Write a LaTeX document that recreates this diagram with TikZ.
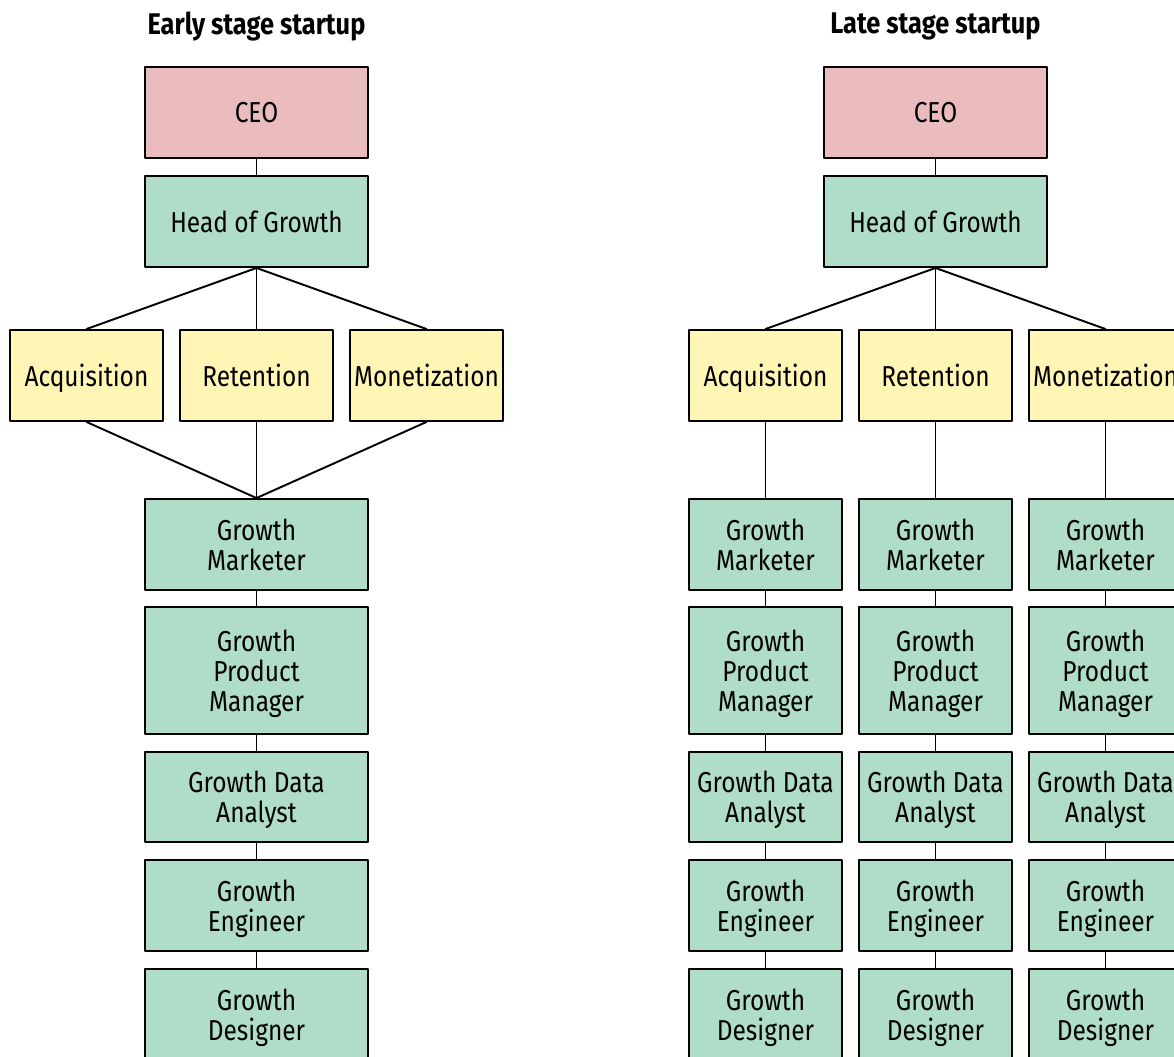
\documentclass[tikz,border=0pt]{standalone}
\usepackage{fontspec}
\setmainfont[FakeStretch=0.85]{Fira Sans}
\definecolor{ceopink}{RGB}{234,188,190}
\definecolor{growgreen}{RGB}{176,221,200}
\definecolor{teamyellow}{RGB}{255,245,180}
\tikzset{
  box/.style={draw, line width=1.1pt, inner sep=0pt, align=center,
    text depth=0pt, font=\fontsize{16.4}{17}\selectfont},
  wide/.style={box, minimum width=4.46cm, minimum height=1.82cm},
  narrow/.style={box, minimum width=3.06cm, minimum height=1.82cm},
  ceobox/.style={fill=ceopink},
  grbox/.style={fill=growgreen},
  teambox/.style={fill=teamyellow},
  link/.style={line width=1.1pt},
  heading/.style={font=\fontsize{17}{18}\selectfont\bfseries}
}
\begin{document}
\begin{tikzpicture}[x=0.02cm, y=-0.02cm, line cap=round, line join=round]

  % Khung hình
  \useasboundingbox (0,0) rectangle (1174,1057);
  \clip (0,0) rectangle (1174,1057);

  % Tiêu đề
  \node[heading] (titleL) at (256.5,26) {Early stage startup};
  \node[heading] (titleR) at (935.5,26) {Late stage startup};

  % Giai đoạn đầu
  \node[wide, ceobox] (ceoL) at (256.5,112.5) {CEO};
  \node[wide, grbox] (hogL) at (256.5,221.5) {Head of Growth};
  \node[narrow, teambox] (acqL) at (86.5,375.5) {Acquisition};
  \node[narrow, teambox] (retL) at (256.5,375.5) {Retention};
  \node[narrow, teambox] (monL) at (426.5,375.5) {Monetization};
  \node[wide, grbox] (mktL) at (256.5,544.5) {Growth\\Marketer};
  \node[wide, grbox, minimum height=2.54cm] (pmL) at (256.5,670.5) {Growth\\Product\\Manager};
  \node[wide, grbox, minimum height=1.8cm] (daL) at (256.5,797) {Growth Data\\Analyst};
  \node[wide, grbox] (engL) at (256.5,905.5) {Growth\\Engineer};
  \node[wide, grbox] (desL) at (256.5,1014.5) {Growth\\Designer};

  \draw[link] (ceoL) -- (hogL);
  \draw[link] (hogL.south) -- (acqL.north);
  \draw[link] (hogL.south) -- (retL.north);
  \draw[link] (hogL.south) -- (monL.north);
  \draw[link] (acqL.south) -- (mktL.north);
  \draw[link] (retL.south) -- (mktL.north);
  \draw[link] (monL.south) -- (mktL.north);
  \draw[link] (mktL) -- (pmL);
  \draw[link] (pmL) -- (daL);
  \draw[link] (daL) -- (engL);
  \draw[link] (engL) -- (desL);

  % Giai đoạn sau
  \node[wide, ceobox] (ceoR) at (935.5,112.5) {CEO};
  \node[wide, grbox] (hogR) at (935.5,221.5) {Head of Growth};
  \node[narrow, teambox] (acqR) at (765.5,375.5) {Acquisition};
  \node[narrow, teambox] (retR) at (935.5,375.5) {Retention};
  \node[narrow, teambox] (monR) at (1105.5,375.5) {Monetization};

  \draw[link] (ceoR) -- (hogR);
  \draw[link] (hogR.south) -- (acqR.north);
  \draw[link] (hogR.south) -- (retR.north);
  \draw[link] (hogR.south) -- (monR.north);

  % Cột Acquisition
  \node[narrow, grbox] (mktA) at (765.5,544.5) {Growth\\Marketer};
  \node[narrow, grbox, minimum height=2.54cm] (pmA) at (765.5,670.5) {Growth\\Product\\Manager};
  \node[narrow, grbox, minimum height=1.8cm] (daA) at (765.5,797) {Growth Data\\Analyst};
  \node[narrow, grbox] (engA) at (765.5,905.5) {Growth\\Engineer};
  \node[narrow, grbox] (desA) at (765.5,1014.5) {Growth\\Designer};

  \draw[link] (acqR) -- (mktA);
  \draw[link] (mktA) -- (pmA);
  \draw[link] (pmA) -- (daA);
  \draw[link] (daA) -- (engA);
  \draw[link] (engA) -- (desA);

  % Cột Retention
  \node[narrow, grbox] (mktB) at (935.5,544.5) {Growth\\Marketer};
  \node[narrow, grbox, minimum height=2.54cm] (pmB) at (935.5,670.5) {Growth\\Product\\Manager};
  \node[narrow, grbox, minimum height=1.8cm] (daB) at (935.5,797) {Growth Data\\Analyst};
  \node[narrow, grbox] (engB) at (935.5,905.5) {Growth\\Engineer};
  \node[narrow, grbox] (desB) at (935.5,1014.5) {Growth\\Designer};

  \draw[link] (retR) -- (mktB);
  \draw[link] (mktB) -- (pmB);
  \draw[link] (pmB) -- (daB);
  \draw[link] (daB) -- (engB);
  \draw[link] (engB) -- (desB);

  % Cột Monetization
  \node[narrow, grbox] (mktC) at (1105.5,544.5) {Growth\\Marketer};
  \node[narrow, grbox, minimum height=2.54cm] (pmC) at (1105.5,670.5) {Growth\\Product\\Manager};
  \node[narrow, grbox, minimum height=1.8cm] (daC) at (1105.5,797) {Growth Data\\Analyst};
  \node[narrow, grbox] (engC) at (1105.5,905.5) {Growth\\Engineer};
  \node[narrow, grbox] (desC) at (1105.5,1014.5) {Growth\\Designer};

  \draw[link] (monR) -- (mktC);
  \draw[link] (mktC) -- (pmC);
  \draw[link] (pmC) -- (daC);
  \draw[link] (daC) -- (engC);
  \draw[link] (engC) -- (desC);

\end{tikzpicture}
\end{document}
